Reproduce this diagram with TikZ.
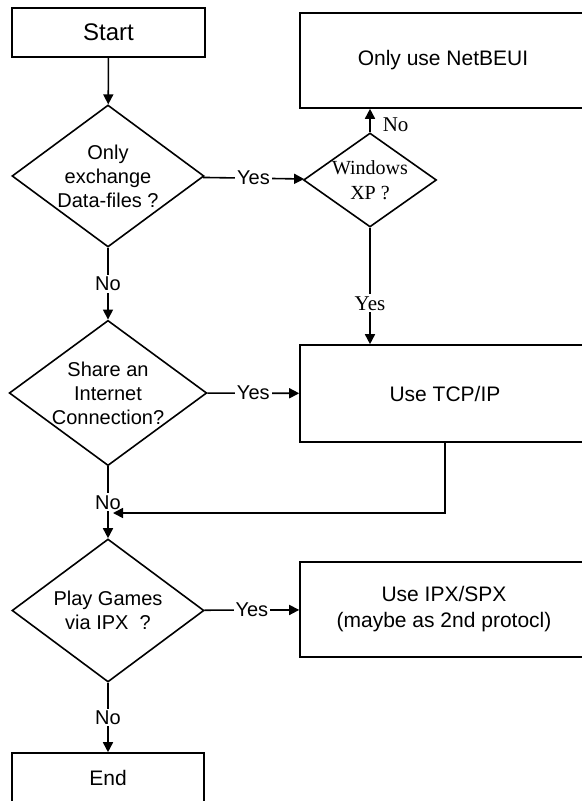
\documentclass[tikz,border=0pt]{standalone}
\usepackage{fontspec}
\setmainfont{Liberation Sans}
\newfontfamily\xpFont{Liberation Serif}
\usetikzlibrary{arrows.meta,shapes.geometric}
\tikzset{
  fcBox/.style={draw=black, line width=0.8pt, fill=white, align=center,
                inner sep=0pt, minimum height=47.5pt,
                font=\fontsize{10.5}{13}\selectfont},
  fcTerm/.style={draw=black, line width=0.8pt, fill=white, align=center,
                 inner sep=0pt, minimum width=96.5pt, minimum height=24.5pt,
                 font=\fontsize{10.5}{13}\selectfont},
  fcDecision/.style={diamond, draw=black, line width=0.8pt, fill=white,
                     align=center, inner sep=0pt,
                     font=\fontsize{10}{12}\selectfont},
  fcArrow/.style={-{Triangle[length=5pt,width=5pt]}, line width=0.8pt},
  fcLabel/.style={fill=white, inner sep=1pt, font=\fontsize{10}{12}\selectfont},
  fcSerif/.style={fill=white, inner sep=1pt, font=\xpFont\fontsize{10.5}{12}\selectfont}
}
\begin{document}
\begin{tikzpicture}[x=0.5pt, y=-0.5pt]
  \useasboundingbox (0,0) rectangle (582,801);
  \clip (0,0) rectangle (582,801);

  % left column
  \node[fcTerm, font=\fontsize{12}{14}\selectfont] (start) at (108.5,32.5) {Start};
  \node[fcDecision, aspect=1.35, minimum width=96pt, minimum height=71pt] (exch) at (108,176) {Only\\exchange\\Data-files ?};
  \node[fcDecision, aspect=1.36, minimum width=95.5pt, minimum height=70pt] (share) at (108,393) {Share an\\Internet\\Connection?};
  \node[fcDecision, aspect=1.34, minimum width=96pt, minimum height=71.5pt] (games) at (108,610.5) {Play Games\\via IPX\ \ ?};
  \node[fcTerm, minimum width=96pt] (end) at (108,777.5) {End};

  % right column
  \node[fcDecision, aspect=1.41, font=\xpFont\fontsize{10}{12.5}\selectfont, minimum width=66.5pt, minimum height=47pt] (winxp) at (370,180) {Windows\\XP ?};
  \node[fcBox, minimum width=143pt] (netbeui) at (443,60.5) {Only use NetBEUI};
  \node[fcBox, minimum width=145pt, minimum height=48.5pt] (tcp) at (445,393.5) {Use TCP/IP};
  \node[fcBox, minimum width=144pt] (ipx) at (444,609.5) {Use IPX/SPX\\(maybe as 2nd protocl)};

  \coordinate (merge) at (113,513);

  % connectors
  \draw[fcArrow] (start) -- (exch);
  \draw[fcArrow] (exch) -- node[fcLabel] {Yes} (winxp);
  \draw[fcArrow] (winxp.north) -- node[fcSerif, fill=none, anchor=west, xshift=5pt, pos=0.3] {No} (winxp.north |- netbeui.south);
  \draw[fcArrow] (winxp) -- node[fcSerif, pos=0.65] {Yes} (winxp |- tcp.north);
  \draw[fcArrow] (exch) -- node[fcLabel] {No} (share);
  \draw[fcArrow] (share) -- node[fcLabel] {Yes} (tcp);
  \draw[fcArrow] (share) -- node[fcLabel] {No} (games);
  \draw[fcArrow] (tcp.south) |- (merge);
  \draw[fcArrow] (games) -- node[fcLabel] {Yes} (ipx);
  \draw[fcArrow] (games) -- node[fcLabel] {No} (end);
\end{tikzpicture}
\end{document}
